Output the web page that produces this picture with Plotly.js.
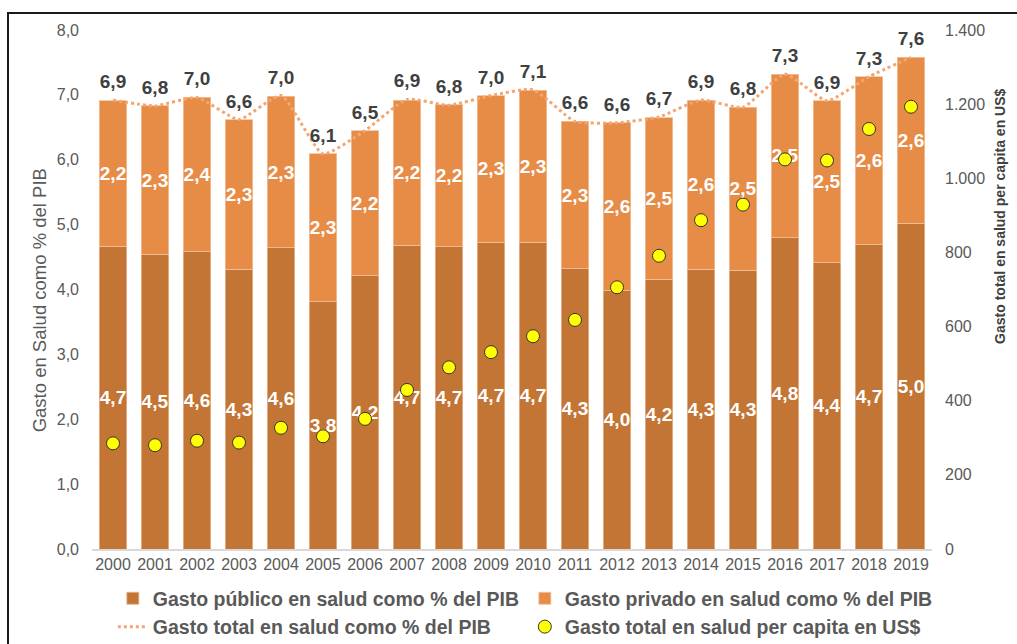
<!DOCTYPE html>
<html>
<head>
<meta charset="utf-8">
<script src="https://cdn.plot.ly/plotly-3.0.1.min.js"></script>
<style>html,body{margin:0;padding:0;background:#fff;}#chart{width:1017px;height:644px;}</style>
</head>
<body>
<div id="chart"></div>
<script>
var years = ["2000","2001","2002","2003","2004","2005","2006","2007","2008","2009","2010","2011","2012","2013","2014","2015","2016","2017","2018","2019"];
var gastoPublico = [4.67,4.54,4.58,4.31,4.64,3.81,4.21,4.68,4.66,4.73,4.73,4.32,3.98,4.16,4.31,4.30,4.80,4.41,4.69,5.02];
var gastoPrivado = [2.24,2.29,2.38,2.31,2.34,2.28,2.24,2.24,2.19,2.26,2.34,2.27,2.59,2.49,2.61,2.51,2.52,2.50,2.59,2.56];
var gastoTotal = [6.92,6.83,6.96,6.62,6.99,6.09,6.45,6.93,6.84,6.99,7.08,6.59,6.57,6.66,6.92,6.81,7.32,6.91,7.28,7.58];
var perCapita = [285,280,292,287,327,304,351,429,490,531,574,618,706,791,887,929,1051,1048,1133,1193];

var FONT = "Arial, 'Liberation Sans', sans-serif";
var GRAY = "#595959";

var traces = [
  {
    type: "bar", x: years, y: gastoPublico, name: "Gasto público en salud como % del PIB",
    marker: {color: "#C37535", line: {color: "#E9B48A", width: 0.8}},
    texttemplate: "%{y:.1f}", textposition: "inside", insidetextanchor: "middle", textangle: 0,
    constraintext: "none",
    textfont: {family: FONT, size: 19, color: "#FFFFFF", weight: "bold"},
    hoverinfo: "skip"
  },
  {
    type: "bar", x: years, y: gastoPrivado, name: "Gasto privado en salud como % del PIB",
    marker: {color: "#E78C46", line: {color: "#F2C29C", width: 0.8}},
    texttemplate: "%{y:.1f}", textposition: "inside", insidetextanchor: "middle", textangle: 0,
    constraintext: "none",
    textfont: {family: FONT, size: 19, color: "#FFFFFF", weight: "bold"},
    hoverinfo: "skip"
  },
  {
    type: "scatter", x: years, y: gastoTotal, name: "Gasto total en salud como % del PIB",
    mode: "lines+markers+text",
    line: {color: "#F4A672", width: 3, dash: "dot", shape: "spline", smoothing: 0.5},
    marker: {size: 10, color: "rgba(0,0,0,0)"},
    texttemplate: "%{y:.1f}", textposition: "top center",
    textfont: {family: FONT, size: 19, color: "#404040", weight: "bold"},
    hoverinfo: "skip"
  },
  {
    type: "scatter", x: years, y: perCapita, yaxis: "y2", name: "Gasto total en salud per capita en US$",
    mode: "markers",
    marker: {size: 13, color: "#FFFF00", line: {color: "#333333", width: 1}},
    hoverinfo: "skip"
  }
];

var layout = {
  width: 1017, height: 644,
  margin: {l: 92, r: 85, t: 30, b: 95, autoexpand: false},
  paper_bgcolor: "#FFFFFF", plot_bgcolor: "#FFFFFF",
  separators: ",.",
  barmode: "stack", bargap: 0.34,
  showlegend: true,
  font: {family: FONT, color: GRAY},
  xaxis: {
    type: "category", range: [-0.5, 19.5], showgrid: false, zeroline: false, automargin: false,
    showline: true, linecolor: "#D9D9D9", linewidth: 1.5,
    ticks: "", tickfont: {family: FONT, size: 16, color: GRAY}
  },
  yaxis: {
    range: [0, 8], dtick: 1, tickformat: ".1f", showgrid: false, zeroline: false, automargin: false,
    showline: false, ticks: "", ticklabelstandoff: 12,
    tickfont: {family: FONT, size: 16, color: GRAY}
  },
  yaxis2: {
    range: [0, 1400], dtick: 200, tickformat: ",d", overlaying: "y", side: "right", automargin: false,
    showgrid: false, zeroline: false, showline: false, ticks: "", ticklabelstandoff: 12,
    tickfont: {family: FONT, size: 16, color: GRAY}
  },
  legend: {
    orientation: "h", x: 0.0248, xanchor: "left", y: -0.058, yanchor: "top",
    traceorder: "normal", entrywidth: 367, entrywidthmode: "pixels",
    font: {family: FONT, size: 19.5, color: GRAY, weight: "bold"},
    bgcolor: "rgba(0,0,0,0)"
  },
  annotations: [
    {xref: "paper", yref: "paper", x: -0.0774, y: 0.48, textangle: -90, showarrow: false,
     text: "Gasto en Salud como % del PIB", font: {family: FONT, size: 18.5, color: GRAY}},
    {xref: "paper", yref: "paper", x: 1.0929, y: 0.64, textangle: -90, showarrow: false,
     text: "Gasto total en salud per capita en US$", font: {family: FONT, size: 14, color: "#404040", weight: "bold"}}
  ],
  shapes: [
    {type: "path", xref: "paper", yref: "paper", path: "M -0.1,-0.3 L -0.1,1.0328 L 1.2,1.0328",
     line: {color: "#1A1A1A", width: 2}, layer: "above"}
  ]
};

Plotly.newPlot("chart", traces, layout, {displayModeBar: false, staticPlot: true});
</script>
</body>
</html>
